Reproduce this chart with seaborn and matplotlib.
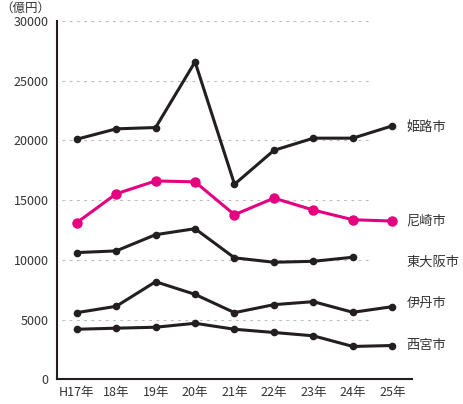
import numpy as np
import pandas as pd
import matplotlib
matplotlib.use('Agg')
import matplotlib.pyplot as plt
import seaborn as sns

# データ（億円）
years = ['H17年', '18年', '19年', '20年', '21年', '22年', '23年', '24年', '25年']
himeji = [20100, 20970, 21080, 26580, 16330, 19170, 20190, 20190, 21220]
amagasaki = [13110, 15530, 16610, 16530, 13780, 15170, 14170, 13360, 13250]
higashiosaka = [10610, 10750, 12110, 12610, 10170, 9800, 9880, 10220, np.nan]
itami = [5580, 6110, 8170, 7110, 5580, 6250, 6500, 5610, 6080]
nishinomiya = [4190, 4280, 4360, 4690, 4190, 3920, 3640, 2750, 2830]
cities = ['姫路市', '尼崎市', '東大阪市', '伊丹市', '西宮市']
label_y = [21100, 13270, 9770, 6360, 2860]

sns.set_style('white')
plt.rcParams['font.family'] = ['Noto Sans CJK JP', 'DejaVu Sans']

df = pd.DataFrame({'x': range(len(years)), '姫路市': himeji, '尼崎市': amagasaki,
                   '東大阪市': higashiosaka, '伊丹市': itami, '西宮市': nishinomiya})

fig = plt.figure(figsize=(4.64, 4.04), dpi=100)
ax = fig.add_axes([57/464, 24.7/404, 355/464, 358.3/404])

black = '#231f20'
pink = '#e4007f'
txt = '#333333'

#グリッド（点線）
for v in [5000, 10000, 15000, 20000, 25000, 30000]:
    ax.axhline(v, xmin=0.014, xmax=0.88, color='#bdbdbd', lw=0.8, ls=(0, (2.5, 4)), zorder=0)

for c in cities:
    col = pink if c == '尼崎市' else black
    ms = 7.5 if c == '尼崎市' else 5.5
    sub = df[['x', c]].dropna()
    sns.lineplot(data=sub, x='x', y=c, ax=ax, color=col, lw=2.2, marker='o',
                 markersize=ms, markeredgewidth=0, zorder=3)

for c, yv in zip(cities, label_y):
    ax.text(8.36, yv, c, fontsize=9.5, color=txt, va='center', ha='left')

ax.set_xlim(-0.5, 8.5)
ax.set_ylim(0, 30000)
ax.set_xticks(range(len(years)))
ax.set_xticklabels(years)
ax.set_xticks(np.arange(0.5, 9, 1), minor=True)
ax.tick_params(axis='x', which='major', length=0, pad=5, labelsize=9, labelcolor=txt)
ax.tick_params(axis='x', which='minor', direction='in', length=6, width=1.2, color=black)
ax.yaxis.remove_overlapping_locs = False
ax.set_yticks([0, 5000, 10000, 15000, 20000, 25000, 30000])
ax.set_yticks([30000], minor=True)
ax.tick_params(axis='y', which='major', length=0, pad=6, labelsize=9, labelcolor=txt)
ax.tick_params(axis='y', which='minor', direction='in', length=4, width=1.5, color=black)
ax.set_xlabel('')
ax.set_ylabel('')
for s in ['top', 'right']:
    ax.spines[s].set_visible(False)
for s in ['left', 'bottom']:
    ax.spines[s].set_color(black)
    ax.spines[s].set_linewidth(1.5)

fig.text(0, 1 - 8/404, '（億円）', fontsize=9, color=txt, va='center', ha='left')

fig.savefig('out.png', dpi=100)
